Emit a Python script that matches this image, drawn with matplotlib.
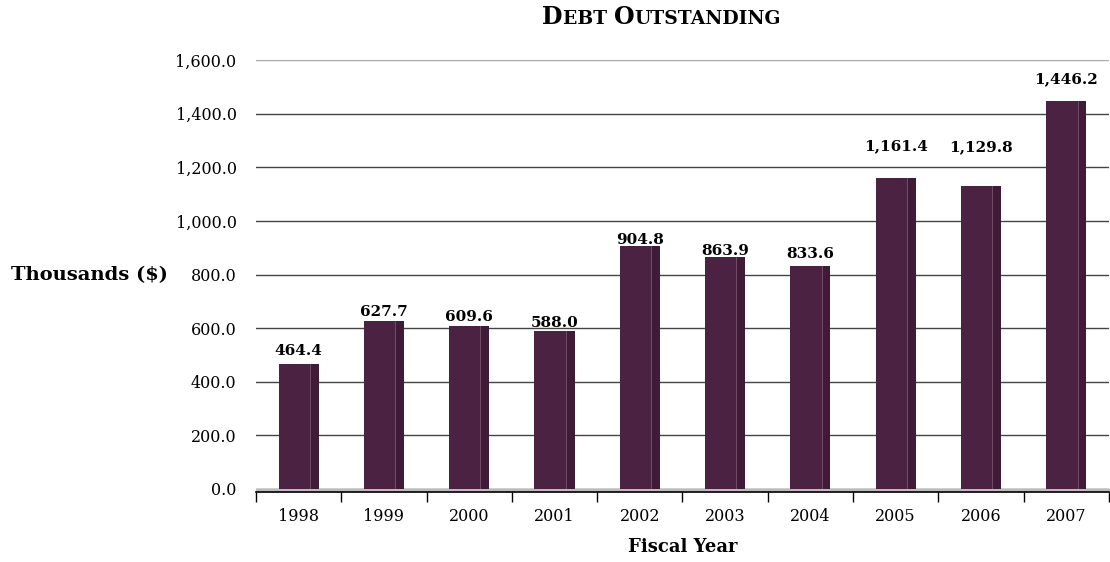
import matplotlib.pyplot as plt
from matplotlib.offsetbox import TextArea, HPacker, AnchoredOffsetbox
from matplotlib.patches import Rectangle

years = ['1998', '1999', '2000', '2001', '2002', '2003', '2004', '2005', '2006', '2007']
debt = [464.4, 627.7, 609.6, 588.0, 904.8, 863.9, 833.6, 1161.4, 1129.8, 1446.2]
yticks = [0, 200, 400, 600, 800, 1000, 1200, 1400, 1600]

# gap (in data units) between bar top and its label
label_gap = [25, 5, 5, 5, -3, -3, 18, 90, 120, 55]

plt.rcParams['font.family'] = ['DejaVu Serif']

face = '#4b2242'
side = '#401b38'

fig = plt.figure(figsize=(11.1, 5.62), dpi=100)
ax = fig.add_axes([0.2306, 0.1299, 0.7685, 0.7633])

x = list(range(len(years)))
w = 0.47
bars = ax.bar(x, debt, width=w, color=face, edgecolor='none', zorder=3)

# darker side strip to give the bars a bit of depth
for b in bars:
    sw = b.get_width() * 0.22
    x1 = b.get_x() + b.get_width() - sw
    ax.add_patch(Rectangle((x1, 0), sw, b.get_height(), facecolor=side,
                           edgecolor='none', zorder=4))
    ax.plot([x1, x1], [0, b.get_height()], color='#7a5570', lw=0.6, zorder=5)

for xi, v, g in zip(x, debt, label_gap):
    ax.text(xi, v + g, f'{v:,.1f}', ha='center', va='bottom',
            fontsize=11, fontweight='bold', zorder=6)

ax.set_xlim(-0.5, len(years) - 0.5)
ax.set_ylim(0, 1600)
ax.set_yticks(yticks)
ax.set_yticklabels([f'{t:,.1f}' for t in yticks])
ax.set_xticks(x)
ax.set_xticklabels(years)
ax.set_xticks([i - 0.5 for i in range(len(years) + 1)], minor=True)

ax.tick_params(axis='y', length=0, pad=14, labelsize=11.5)
ax.tick_params(axis='x', which='major', length=0, pad=12, labelsize=11.5)
ax.tick_params(axis='x', which='minor', length=7, width=1, color='black', direction='out')

ax.grid(axis='y', color='#444444', lw=1, zorder=0)
ax.get_ygridlines()[-1].set_color('#aaaaaa')
for s in ['left', 'right', 'top']:
    ax.spines[s].set_visible(False)
ax.spines['bottom'].set_position(('outward', 2))
ax.spines['bottom'].set_linewidth(1.2)
ax.axhspan(-8, 0, color='#bbbbbb', zorder=1, clip_on=False)

ax.set_xlabel('Fiscal Year', fontsize=13, fontweight='bold', labelpad=9)
fig.text(0.010, 0.51, 'Thousands ($)', fontsize=14, fontweight='bold',
         ha='left', va='center')

# small-caps title
parts = [('D', 17), ('EBT ', 13.5), ('O', 17), ('UTSTANDING', 13.5)]
areas = [TextArea(t, textprops=dict(fontsize=s, fontweight='bold')) for t, s in parts]
title = HPacker(children=areas, align='baseline', pad=0, sep=0)
box = AnchoredOffsetbox(loc='center', child=title, frameon=False,
                        bbox_to_anchor=(0.596, 0.970), bbox_transform=fig.transFigure,
                        borderpad=0, pad=0)
fig.add_artist(box)

fig.savefig('out.png', dpi=100)
